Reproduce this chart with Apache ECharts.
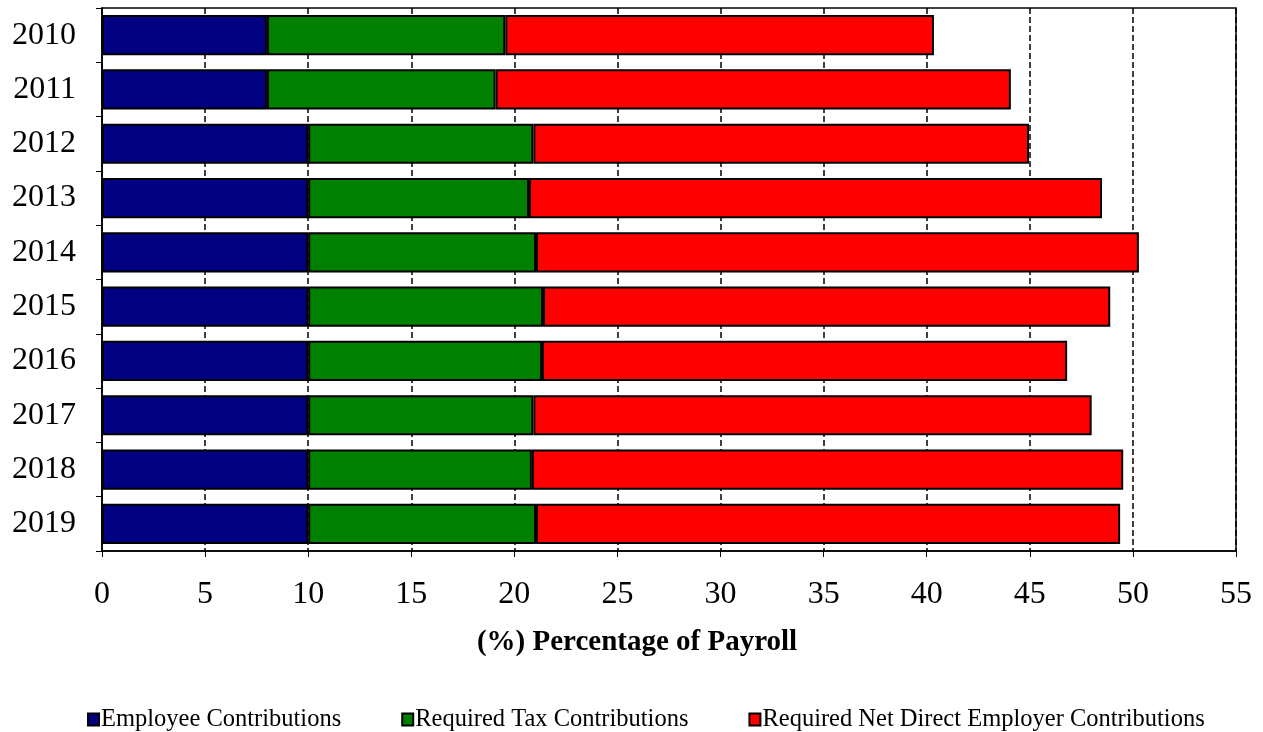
<!DOCTYPE html>
<html>
<head>
<meta charset="utf-8">
<script src="https://cdn.jsdelivr.net/npm/echarts@6/dist/echarts.min.js"></script>
<style>
  html, body { margin: 0; padding: 0; background: #fff; }
  #chart { width: 1263px; height: 732px; }
</style>
</head>
<body>
<div id="chart"></div>
<script>
// years, top to bottom
var years = ['2010', '2011', '2012', '2013', '2014', '2015', '2016', '2017', '2018', '2019'];

// percent of payroll
var employeeContrib = [8, 8, 10, 10, 10, 10, 10, 10, 10, 10];
var taxContrib = [11.56, 11.09, 10.92, 10.71, 11.05, 11.39, 11.34, 10.92, 10.85, 11.05];
var employerContrib = [20.79, 24.99, 24.04, 27.79, 29.24, 27.51, 25.47, 27.08, 28.68, 28.33];

var xTicks = [0, 5, 10, 15, 20, 25, 30, 35, 40, 45, 50, 55];

var seriesNames = ['Employee Contributions', 'Required Tax Contributions', 'Required Net Direct Employer Contributions'];
var seriesColors = ['#000080', '#008000', '#ff0000'];

var font = '"Liberation Serif", "Times New Roman", serif';

var chart = echarts.init(document.getElementById('chart'));

function barSeries(i, values) {
  return {
    name: seriesNames[i],
    type: 'bar',
    stack: 'total',
    data: values,
    barCategoryGap: '26%',
    itemStyle: { color: seriesColors[i], borderColor: '#000', borderWidth: 2 }
  };
}

var option = {
  animation: false,
  backgroundColor: '#fff',
  textStyle: { fontFamily: font, color: '#000' },
  grid: {
    left: 102, right: 27, top: 8, bottom: 181,
    show: true, borderColor: '#000', borderWidth: 1.5
  },
  xAxis: {
    type: 'value',
    min: xTicks[0],
    max: xTicks[xTicks.length - 1],
    interval: 5,
    name: '(%) Percentage of Payroll',
    nameLocation: 'middle',
    nameGap: 77,
    nameTextStyle: { fontFamily: font, fontSize: 29, fontWeight: 'bold', color: '#000', padding: [0, 64, 0, 0] },
    axisLine: { show: true, lineStyle: { color: '#000', width: 1.5 } },
    axisTick: { show: true, length: 6, lineStyle: { color: '#000', width: 1 } },
    axisLabel: { fontFamily: font, fontSize: 32, color: '#000', margin: 28 },
    splitLine: { show: true, lineStyle: { color: '#000', width: 1.5, type: [6, 3] } }
  },
  yAxis: {
    type: 'category',
    data: years,
    inverse: true,
    axisLine: { show: true, lineStyle: { color: '#000', width: 1.5 } },
    axisTick: { show: true, length: 6, lineStyle: { color: '#000', width: 1 } },
    axisLabel: { fontFamily: font, fontSize: 32, color: '#000', margin: 26 },
    splitLine: { show: false }
  },
  legend: {
    bottom: 0,
    left: 87,
    padding: 0,
    itemWidth: 11,
    itemHeight: 12,
    itemGap: 60,
    icon: 'rect',
    textStyle: { fontFamily: font, fontSize: 24.5, color: '#000', padding: [0, 0, 0, -3] },
    data: seriesNames
  },
  series: [
    barSeries(0, employeeContrib),
    barSeries(1, taxContrib),
    barSeries(2, employerContrib)
  ]
};

chart.setOption(option);
</script>
</body>
</html>
